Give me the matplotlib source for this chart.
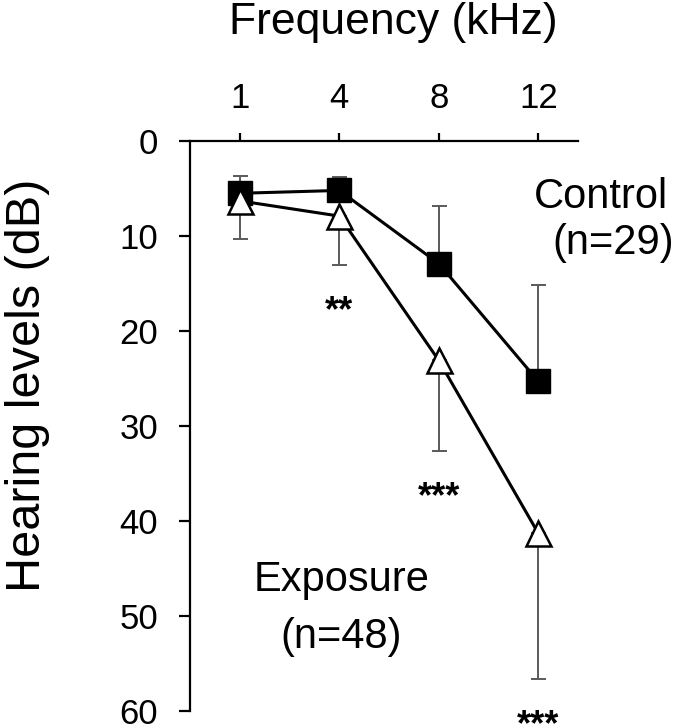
import matplotlib
matplotlib.use("Agg")
import matplotlib.pyplot as plt

plt.rcParams['font.family'] = ['Liberation Sans', 'DejaVu Sans']

# frequencies (kHz) and mean hearing levels (dB)
freq_labels = ['1', '4', '8', '12']
control = [5.5, 5.2, 12.9, 25.3]
control_err = [1.8, 1.4, 6.1, 10.1]
exposure = [6.3, 7.9, 23.1, 41.3]
exposure_err = [4.0, 5.2, 9.5, 15.3]
signif = ['', '**', '***', '***']

x = [i + 0.5 for i in range(len(freq_labels))]

fig = plt.figure(figsize=(6.75, 7.27), dpi=100)
ax = fig.add_axes([0.2815, 0.022, 0.575, 0.784])

grey = '#5a5a5a'
# one-sided error bars: control upward, exposure downward
ax.errorbar(x, control, yerr=[control_err, [0] * 4], fmt='none', ecolor=grey,
            elinewidth=1.4, capsize=5.4, capthick=1.4, zorder=1)
ax.errorbar(x, exposure, yerr=[[0] * 4, exposure_err], fmt='none', ecolor=grey,
            elinewidth=1.4, capsize=5.4, capthick=1.4, zorder=1)

ax.plot(x, control, color='black', lw=2.2, marker='s', ms=17,
        mfc='black', mec='black', zorder=3)
ax.plot(x, exposure, color='black', lw=2.2, marker='^', ms=18,
        mfc='white', mec='black', mew=1.8, zorder=4)

# significance marks below the exposure error bars
for xi, e, err, s in zip(x, exposure, exposure_err, signif):
    if s:
        ax.text(xi, e + err + 5.9, s, ha='center', va='baseline', fontsize=26,
                fontweight='bold', clip_on=False)

ax.text(4.13, 7.1, 'Control', ha='center', va='baseline', fontsize=30,
        clip_on=False)
ax.text(4.25, 11.85, '(n=29)', ha='center', va='baseline', fontsize=30,
        clip_on=False)
ax.text(1.52, 47.4, 'Exposure', ha='center', va='baseline', fontsize=30)
ax.text(1.52, 53.4, '(n=48)', ha='center', va='baseline', fontsize=30)

ax.set_xlim(0, 3.9)
ax.set_ylim(60, 0)
ax.set_yticks(range(0, 61, 10))
ax.set_xticks(x)
ax.set_xticklabels(freq_labels)

ax.xaxis.tick_top()
ax.xaxis.set_label_position('top')
ax.spines['right'].set_visible(False)
ax.spines['bottom'].set_visible(False)
for sp in ['top', 'left']:
    ax.spines[sp].set_linewidth(1.6)
ax.tick_params(axis='y', direction='out', length=8, width=1.6,
               labelsize=25, pad=15)
ax.tick_params(axis='x', direction='out', length=6, width=1.6,
               labelsize=25, pad=13)
ax.set_xlabel('Frequency (kHz)', fontsize=32)
ax.set_ylabel('Hearing levels (dB)', fontsize=35)
ax.xaxis.set_label_coords(0.523, 1.188)
ax.yaxis.set_label_coords(-0.361, 0.572)

fig.savefig('out.png', dpi=100)
